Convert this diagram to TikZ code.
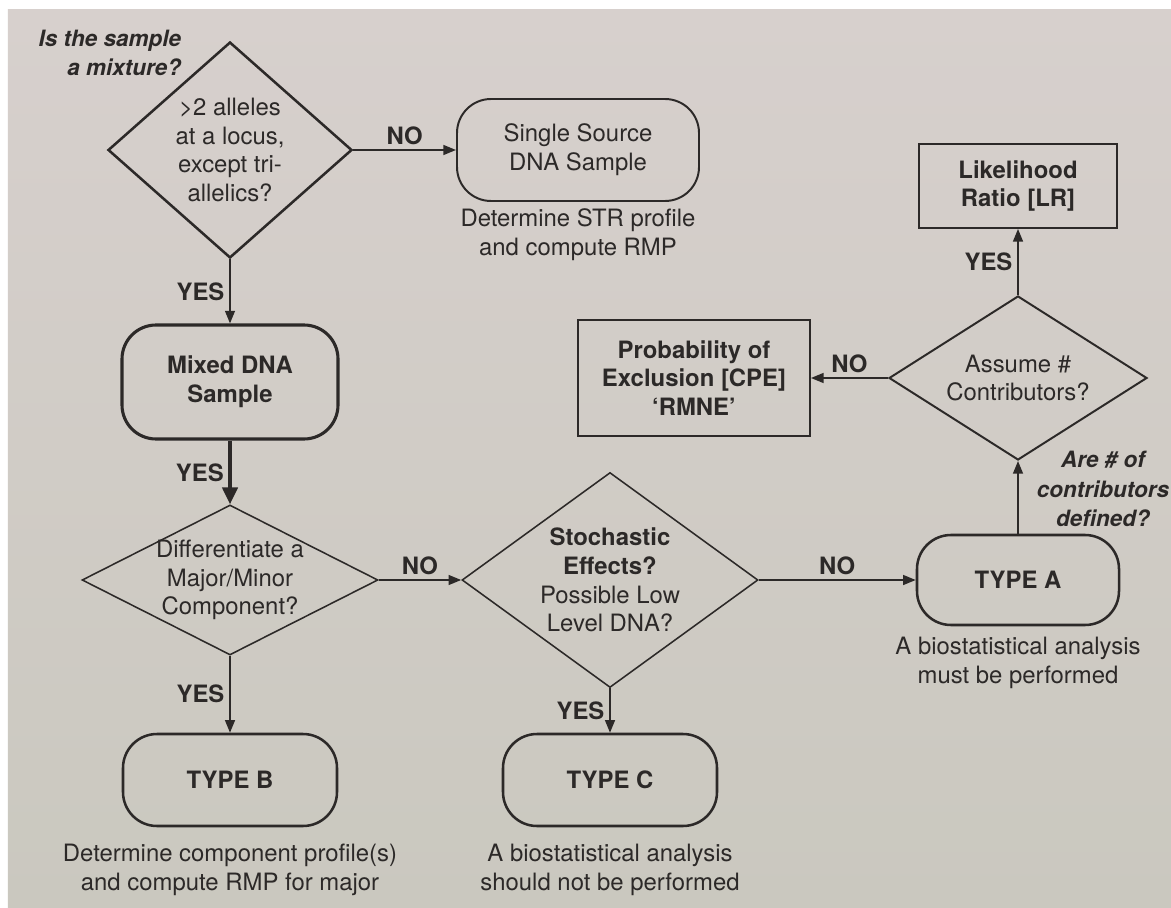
\documentclass[tikz,border=0pt]{standalone}
\usepackage{fontspec}
\setmainfont{TeX Gyre Heros}
\usepackage{xcolor}
\usepackage{tikz}
\usetikzlibrary{
  positioning,
  arrows.meta,
  shapes.geometric
}
\definecolor{ink}{HTML}{2C2928}
\definecolor{papertop}{HTML}{D7D0CD}
\definecolor{paperbot}{HTML}{CAC8BF}
\newcommand{\flowfont}{\fontsize{17}{20.5}\selectfont}
\newcommand{\notefont}{\fontsize{16}{21}\selectfont}

\begin{document}
\begin{tikzpicture}[
      every node/.style={font=\flowfont, text=ink},
      decision/.style={diamond, draw=ink, inner sep=0pt, line width=1.1pt},
      inside/.style={align=center},
      terminal/.style={rectangle, rounded corners=0.85cm, draw=ink, line width=1.8pt, align=center},
      result/.style={rectangle, draw=ink, line width=1.3pt, align=center, font=\flowfont\bfseries},
      caption/.style={align=center},
      note/.style={font=\notefont\bfseries\itshape},
      answer/.style={font=\flowfont\bfseries},
      arrow/.style={-{Triangle[length=9pt, width=7pt]}, draw=ink, line width=1.3pt}
    ]
      % Paper
      \useasboundingbox (0,0) rectangle (29.275,-22.7);
      \fill[white] (0,0) rectangle (29.275,-22.7);
      \shade[top color=papertop, bottom color=paperbot] (0.2,-0.25) rectangle (29.275,-22.7);

      % Nodes
      \node[decision, line width=1.8pt, minimum width=6.1cm, minimum height=5.4cm,
            label={[inside]center:{>2 alleles\\at a locus,\\except tri-\\allelics?}}] (mix) at (5.75,-3.75) {};
      \node[terminal, line width=1.4pt, minimum width=6.05cm, minimum height=2.55cm,
            right of=mix, node distance=8.7cm] (single) {Single Source\\DNA Sample};
      \node[terminal, line width=2.2pt, minimum width=5.4cm, minimum height=2.85cm, font=\flowfont\bfseries,
            below of=mix, node distance=5.8cm] (mixed) {Mixed DNA\\Sample};
      \node[decision, minimum width=7.4cm, minimum height=3.75cm,
            label={[inside]center:{Differentiate a\\Major/Minor\\Component?}},
            below of=mixed, node distance=4.95cm] (major) {};
      \node[terminal, minimum width=5.35cm, minimum height=2.3cm, font=\flowfont\bfseries,
            below of=major, node distance=5cm] (typeB) {TYPE B};
      \node[decision, minimum width=7.4cm, minimum height=5.375cm,
            label={[inside]center:{\textbf{Stochastic}\\\textbf{Effects?}\\Possible Low\\Level DNA?}},
            right of=major, node distance=9.5cm] (stoch) {};
      \node[terminal, minimum width=5.35cm, minimum height=2.3cm, font=\flowfont\bfseries,
            below of=stoch, node distance=5cm] (typeC) {TYPE C};
      \node[terminal, minimum width=5.05cm, minimum height=2.25cm, font=\flowfont\bfseries,
            right of=stoch, node distance=10.2cm] (typeA) {TYPE A};
      \node[decision, line width=1.4pt, minimum width=6.45cm, minimum height=4.1cm,
            label={[inside]center:{Assume \#\\Contributors?}},
            above of=typeA, node distance=5.05cm] (assume) {};
      \node[result, minimum width=4.95cm, minimum height=2.1cm,
            above of=assume, node distance=4.8cm] (lr) {Likelihood\\Ratio [LR]};
      \node[result, minimum width=5.8cm, minimum height=2.9cm,
            left of=assume, node distance=8.1cm] (cpe) {Probability of\\Exclusion [CPE]\\`RMNE'};

      % Arrows
      \draw[arrow] (mix) -- (single) node[answer, midway, above] {NO};
      \draw[arrow] (mix) -- (mixed) node[answer, midway, left] {YES};
      \draw[arrow, line width=2.2pt, -{Triangle[length=12pt, width=11pt]}] (mixed) -- (major) node[answer, midway, left] {YES};
      \draw[arrow] (major) -- (typeB) node[answer, midway, left] {YES};
      \draw[arrow] (major) -- (stoch) node[answer, midway, above] {NO};
      \draw[arrow] (stoch) -- (typeC) node[answer, midway, left] {YES};
      \draw[arrow] (stoch) -- (typeA) node[answer, midway, above] {NO};
      \draw[arrow] (typeA) -- (assume);
      \draw[arrow] (assume) -- (lr) node[answer, midway, left] {YES};
      \draw[arrow] (assume) -- (cpe) node[answer, midway, above] {NO};

      % Annotations
      \node[note, align=right, left=1.1cm of mix.north, yshift=-0.3cm] (q1) {Is the sample\\a mixture?};
      \node[note, align=center, right=0.35cm of assume.south, yshift=-0.7cm] (q2) {Are \# of\\contributors\\defined?};
      \node[caption, below=0.05cm of single] (c1) {Determine STR profile\\and compute RMP};
      \node[caption, below=0.15cm of typeA] (c2) {A biostatistical analysis\\must be performed};
      \node[caption, below=0.3cm of typeB] (c3) {Determine component profile(s)\\and compute RMP for major};
      \node[caption, below=0.3cm of typeC] (c4) {A biostatistical analysis\\should not be performed};
    \end{tikzpicture}
\end{document}
